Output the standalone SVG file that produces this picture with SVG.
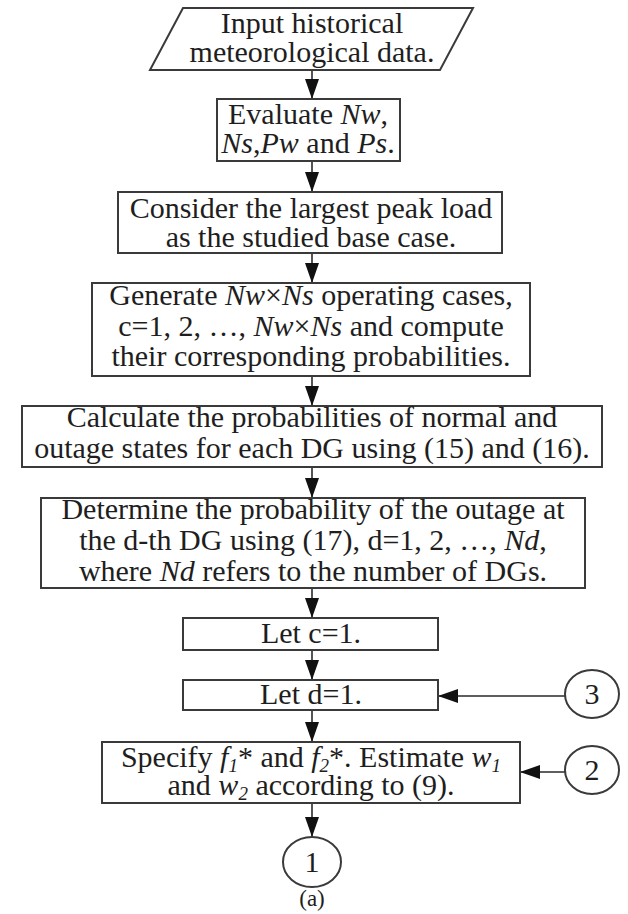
<svg xmlns="http://www.w3.org/2000/svg" width="628" height="914" viewBox="0 0 628 914">
<style>
.box{fill:#fff;stroke:#3a3a3a;stroke-width:2}
.t{font-family:"Liberation Serif","Times New Roman",serif;font-size:30px;fill:#1e1e1e;text-anchor:middle}
.i{font-style:italic}
.s{font-size:19px;font-style:italic}
.c{fill:none;stroke:#2a2a2a;stroke-width:1.6}
</style>
<defs>
<marker id="ah" viewBox="0 0 20 14" refX="20" refY="7" markerWidth="20" markerHeight="14" markerUnits="userSpaceOnUse" orient="auto">
<path d="M0,0 L20,7 L0,14 z" fill="#111"/>
</marker>
</defs>
<rect width="628" height="914" fill="#fff"/>
<g id="connectors">
<line class="c" x1="312" y1="70" x2="312" y2="99" marker-end="url(#ah)"/>
<line class="c" x1="312" y1="161" x2="312" y2="192" marker-end="url(#ah)"/>
<line class="c" x1="312" y1="253" x2="312" y2="283" marker-end="url(#ah)"/>
<line class="c" x1="312" y1="376" x2="312" y2="406" marker-end="url(#ah)"/>
<line class="c" x1="312" y1="467" x2="312" y2="498" marker-end="url(#ah)"/>
<line class="c" x1="312" y1="588" x2="312" y2="618" marker-end="url(#ah)"/>
<line class="c" x1="312" y1="650" x2="312" y2="680" marker-end="url(#ah)"/>
<line class="c" x1="312" y1="710" x2="312" y2="742" marker-end="url(#ah)"/>
<line class="c" x1="312" y1="803" x2="312" y2="837" marker-end="url(#ah)"/>
<line class="c" x1="565" y1="696" x2="438" y2="696" marker-end="url(#ah)"/>
<line class="c" x1="565" y1="772" x2="520" y2="772" marker-end="url(#ah)"/>
</g>
<g id="input">
<polygon class="box" points="183,8 473,8 440,70 150,70"/>
<text class="t" x="312" y="33">Input historical</text>
<text class="t" x="312" y="62">meteorological data.</text>
</g>
<g id="evaluate">
<rect class="box" x="217" y="99" width="183" height="62"/>
<text class="t" x="308" y="124">Evaluate <tspan class="i">Nw</tspan>,</text>
<text class="t" x="308" y="153"><tspan class="i">Ns</tspan>,<tspan class="i">Pw</tspan> and <tspan class="i">Ps</tspan>.</text>
</g>
<g id="consider">
<rect class="box" x="118" y="192" width="384" height="61"/>
<text class="t" x="311" y="218">Consider the largest peak load</text>
<text class="t" x="311" y="247">as the studied base case.</text>
</g>
<g id="generate">
<rect class="box" x="92" y="283" width="438" height="93"/>
<text class="t" x="311" y="305">Generate <tspan class="i">Nw</tspan>×<tspan class="i">Ns</tspan> operating cases,</text>
<text class="t" x="311" y="336">c=1, 2, …, <tspan class="i">Nw</tspan>×<tspan class="i">Ns</tspan> and compute</text>
<text class="t" x="311" y="366">their corresponding probabilities.</text>
</g>
<g id="calculate">
<rect class="box" x="22" y="406" width="580" height="61"/>
<text class="t" x="312" y="427">Calculate the probabilities of normal and</text>
<text class="t" x="312" y="458">outage states for each DG using (15) and (16).</text>
</g>
<g id="determine">
<rect class="box" x="41" y="498" width="544" height="90"/>
<text class="t" x="313" y="519">Determine the probability of the outage at</text>
<text class="t" x="313" y="550">the d-th DG using (17), d=1, 2, …, <tspan class="i">Nd</tspan>,</text>
<text class="t" x="313" y="581">where <tspan class="i">Nd</tspan> refers to the number of DGs.</text>
</g>
<g id="letc">
<rect class="box" x="183" y="618" width="255" height="32"/>
<text class="t" x="311" y="643">Let c=1.</text>
</g>
<g id="letd">
<rect class="box" x="183" y="680" width="255" height="30"/>
<text class="t" x="311" y="704">Let d=1.</text>
</g>
<g id="specify">
<rect class="box" x="102" y="742" width="418" height="61"/>
<text class="t" x="311" y="767">Specify <tspan class="i">f</tspan><tspan class="s" baseline-shift="-5">1</tspan>* and <tspan class="i">f</tspan><tspan class="s" baseline-shift="-5">2</tspan>*. Estimate <tspan class="i">w</tspan><tspan class="s" baseline-shift="-5">1</tspan></text>
<text class="t" x="311" y="795">and <tspan class="i">w</tspan><tspan class="s" baseline-shift="-5">2</tspan> according to (9).</text>
</g>
<g id="c1">
<ellipse class="box" cx="312" cy="862" rx="29" ry="25"/>
<text class="t" x="312" y="872">1</text>
</g>
<g id="c3">
<ellipse class="box" cx="592" cy="694" rx="27" ry="24"/>
<text class="t" x="592" y="704">3</text>
</g>
<g id="c2">
<ellipse class="box" cx="592" cy="770" rx="27" ry="24"/>
<text class="t" x="592" y="780">2</text>
</g>
<text class="t" x="312" y="906" style="font-size:23px">(a)</text>
</svg>
